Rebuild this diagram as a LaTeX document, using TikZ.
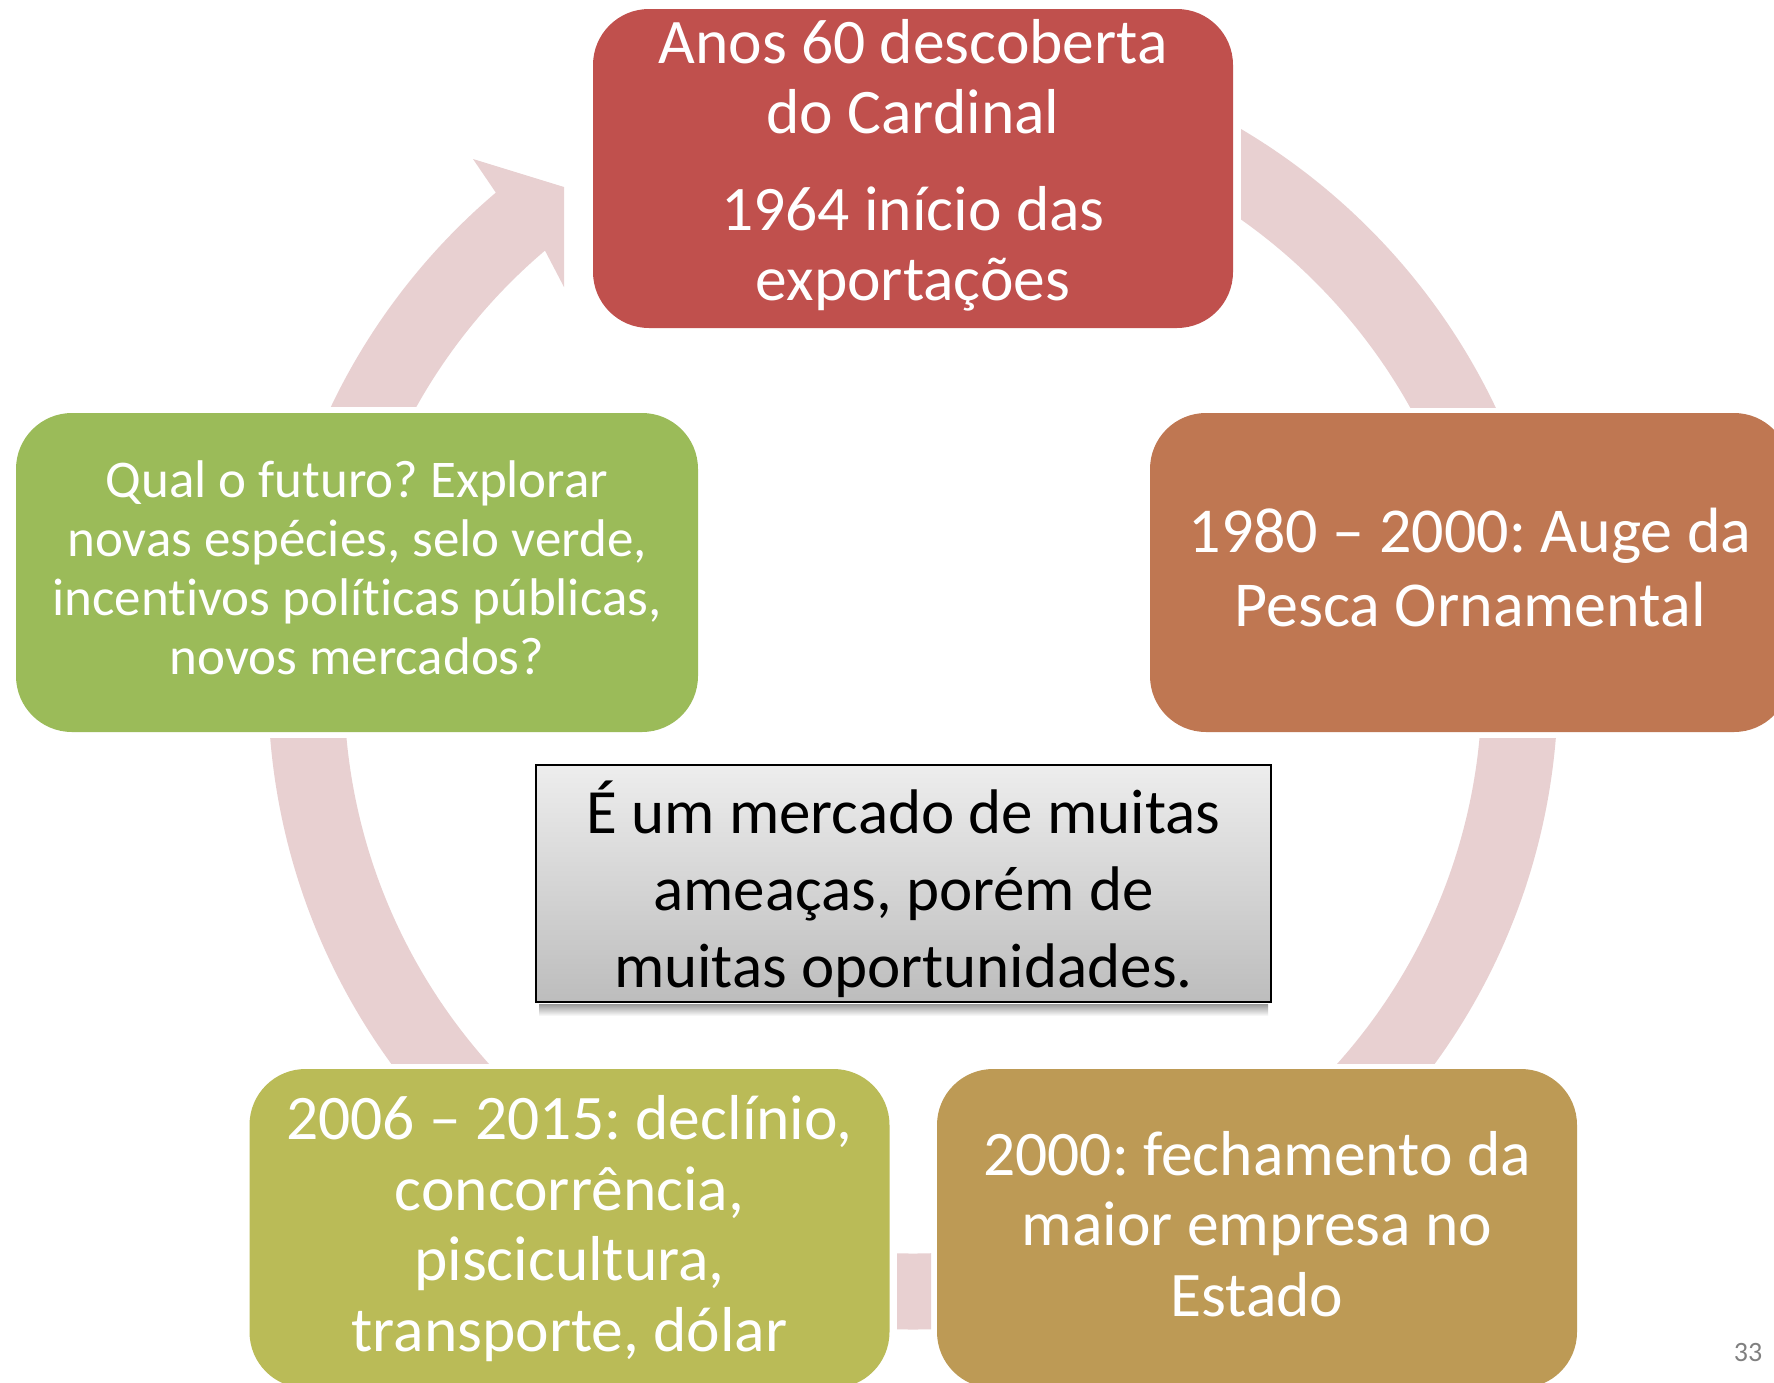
\documentclass[tikz,border=0pt]{standalone}
\usepackage{fontspec}
\setmainfont{Carlito}[Ligatures=NoCommon]
\usetikzlibrary{calc}
\definecolor{ringc}{RGB}{232,208,209}
\definecolor{redc}{RGB}{192,80,77}
\definecolor{orangec}{RGB}{191,119,82}
\definecolor{greenc}{RGB}{155,187,89}
\definecolor{olivec}{RGB}{186,187,87}
\definecolor{tanc}{RGB}{189,154,85}
\newcommand{\liftup}{\rule[-10pt]{0pt}{0pt}}
\begin{document}
\frenchspacing
\begin{tikzpicture}[x=1pt,y=1pt,
  stage/.style={rounded corners=56pt, minimum width=640pt, minimum height=319pt, inner sep=0pt, text=white, align=center},
  annulus/.style={fill=ringc, even odd rule}]
\useasboundingbox (0,0) rectangle (1774,-1382);
\clip (0,0) rectangle (1774,-1382);
\fill[white] (0,0) rectangle (1774,-1382);
\coordinate (C) at (913,-684.5);

% ring segments
\begin{scope}
  \clip (1241,0) rectangle (1774,-407);
  \path[annulus] (C) circle[radius=645] (C) circle[radius=569];
\end{scope}
\begin{scope}
  \clip (913,-738) rectangle (1774,-1063);
  \path[annulus] (C) circle[radius=645] (C) circle[radius=569];
\end{scope}
\begin{scope}
  \clip (897,-1100) rectangle (931,-1382);
  \path[annulus] (C) circle[radius=645] (C) circle[radius=569];
\end{scope}
\begin{scope}
  \clip (0,-738) rectangle (913,-1063);
  \path[annulus] (C) circle[radius=645] (C) circle[radius=569];
\end{scope}
\fill[ringc] (473,-159) -- (564,-187) -- (564,-287) -- ($(C)+(130.3:569)$)
  arc[start angle=130.3, end angle=150.8, radius=569]
  -- ($(C)+(154.5:645)$) arc[start angle=154.5, end angle=130.3, radius=645] -- cycle;

% stages
\node[stage, fill=redc, font=\fontsize{63.5}{70}\selectfont] (s1) at (913,-168.5)
  {Anos 60 descoberta\\do Cardinal\\[27pt]1964 início das\\exportações\rule[-17pt]{0pt}{0pt}};
\node[stage, fill=orangec, font=\fontsize{64}{73.5}\selectfont] (s2) at (1470,-572.5)
  {1980 – 2000: Auge da\\Pesca Ornamental\liftup};
\node[stage, fill=tanc, font=\fontsize{63.5}{70.5}\selectfont] (s3) at (1257,-1228.5)
  {2000: fechamento da\\maior empresa no\\Estado\liftup};
\node[stage, fill=olivec, font=\fontsize{63.5}{70.5}\selectfont] (s4) at (569.5,-1228.5)
  {2006 – 2015: declínio,\\concorrência,\\piscicultura,\\transporte, dólar\liftup};
\node[stage, fill=greenc, minimum width=682pt, font=\fontsize{53}{59}\selectfont] (s5) at (357,-572.5)
  {Qual o futuro? Explorar\\novas espécies, selo verde,\\incentivos políticas públicas,\\novos mercados?\liftup};

% central message
\node[draw=black, line width=2pt, top color=black!7, bottom color=black!26,
  minimum width=735pt, minimum height=237pt, inner sep=0pt, align=center,
  font=\fontsize{63}{77}\selectfont] (msg) at (903.5,-883.5)
  {\rule{0pt}{64pt}É um mercado de muitas\\ameaças, porém de\\muitas oportunidades.};
\shade[top color=black!40, bottom color=white]
  ($(msg.south west)+(4,-1)$) rectangle ($(msg.south east)+(-4,-13)$);

\node[text=black!50, font=\fontsize{28}{34}\selectfont] (pg) at (1748,-1352) {33};
\end{tikzpicture}
\end{document}
